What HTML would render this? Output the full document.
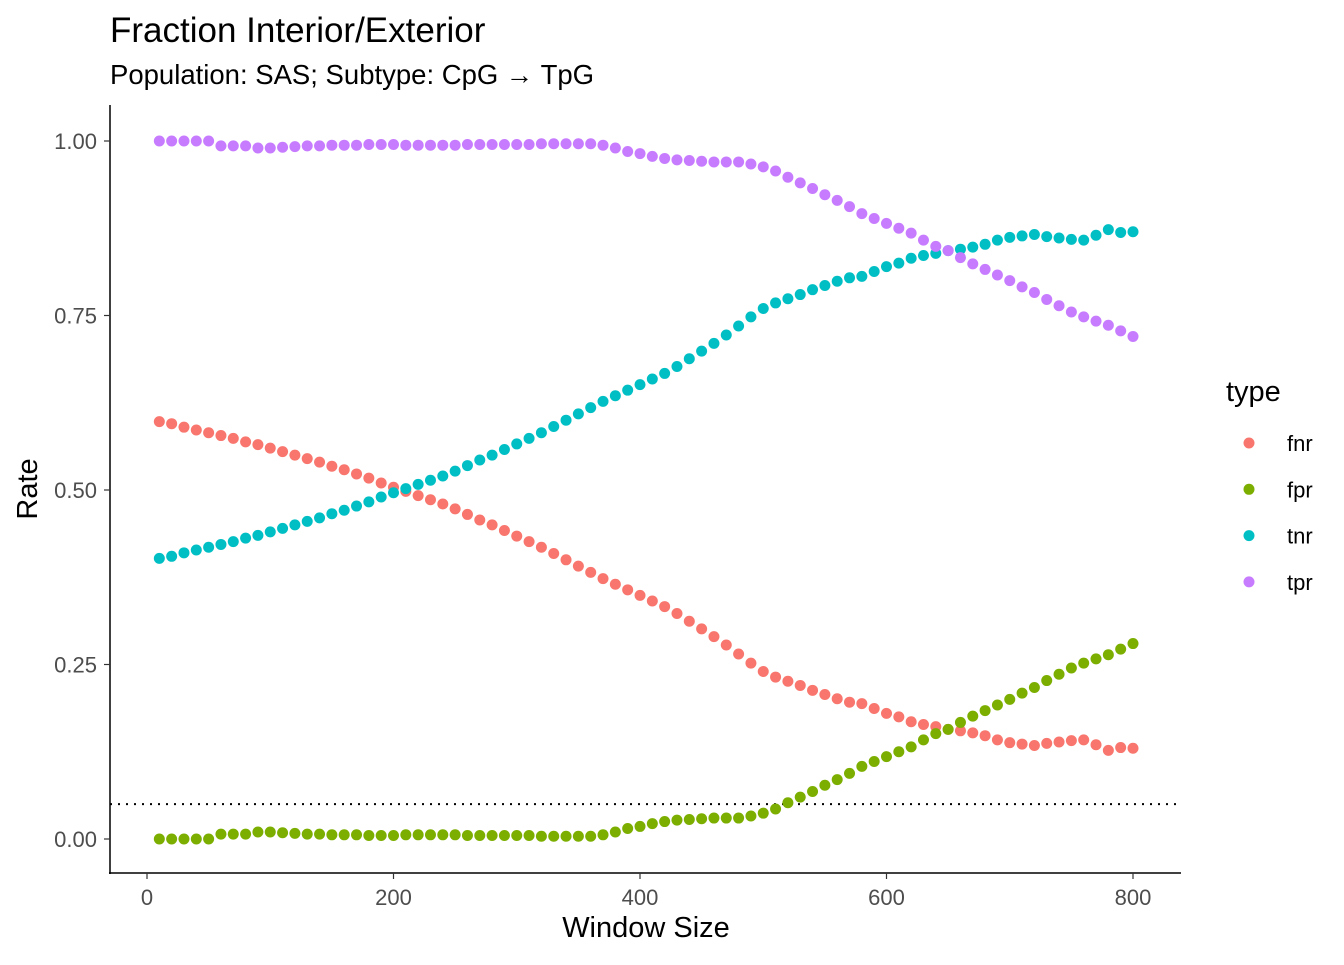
<!DOCTYPE html>
<html><head><meta charset="utf-8"><style>
body{margin:0;background:#fff;font-family:"Liberation Sans",sans-serif}
</style></head><body>
<svg width="1344" height="960" id="c" font-family="Liberation Sans, sans-serif">
<text x="110" y="42" font-size="35">Fraction Interior/Exterior</text>
<text x="110" y="84" font-size="27.5">Population: SAS; Subtype: CpG → TpG</text>
<g id="marks"></g>
<line x1="110" y1="105" x2="110" y2="874" stroke="#000" stroke-width="1.5"/>
<line x1="109" y1="873" x2="1181" y2="873" stroke="#000" stroke-width="1.5"/>
<text x="646" y="937" font-size="29" text-anchor="middle">Window Size</text>
<text transform="translate(37,489) rotate(-90)" font-size="29" text-anchor="middle">Rate</text>
<text x="1226" y="401" font-size="29">type</text>
<g id="legend"></g>
</svg>
<script>
const xs=[];for(let i=1;i<=80;i++)xs.push(i*10);
const tpr=[1,1,1,1,1,0.993,0.993,0.993,0.99,0.99,0.991,0.992,0.993,0.993,0.994,0.994,0.994,0.995,0.995,0.995,0.994,0.994,0.994,0.994,0.994,0.995,0.995,0.995,0.995,0.995,0.995,0.996,0.996,0.996,0.996,0.996,0.994,0.99,0.985,0.982,0.978,0.975,0.973,0.972,0.971,0.97,0.97,0.97,0.967,0.963,0.957,0.948,0.94,0.932,0.923,0.915,0.906,0.896,0.889,0.882,0.875,0.868,0.858,0.849,0.843,0.833,0.824,0.816,0.808,0.8,0.791,0.783,0.773,0.764,0.755,0.748,0.742,0.736,0.728,0.72];
const fpr=[0,0,0,0,0,0.007,0.007,0.007,0.01,0.01,0.009,0.008,0.007,0.007,0.006,0.006,0.006,0.005,0.005,0.005,0.006,0.006,0.006,0.006,0.006,0.005,0.005,0.005,0.005,0.005,0.005,0.004,0.004,0.004,0.004,0.004,0.006,0.01,0.015,0.018,0.022,0.025,0.027,0.028,0.029,0.03,0.03,0.03,0.033,0.037,0.043,0.052,0.06,0.068,0.077,0.085,0.094,0.104,0.111,0.118,0.125,0.132,0.142,0.151,0.157,0.167,0.176,0.184,0.192,0.2,0.209,0.217,0.227,0.236,0.245,0.252,0.258,0.264,0.272,0.28];
const tnr=[0.402,0.405,0.41,0.414,0.418,0.422,0.426,0.431,0.435,0.44,0.445,0.45,0.455,0.46,0.466,0.471,0.477,0.483,0.49,0.496,0.502,0.508,0.514,0.52,0.527,0.535,0.543,0.55,0.558,0.566,0.574,0.582,0.591,0.6,0.609,0.618,0.627,0.635,0.643,0.651,0.659,0.667,0.677,0.688,0.699,0.71,0.722,0.735,0.748,0.76,0.768,0.774,0.78,0.787,0.793,0.799,0.804,0.806,0.813,0.82,0.825,0.832,0.836,0.839,0.843,0.845,0.848,0.852,0.858,0.862,0.864,0.866,0.863,0.861,0.859,0.858,0.865,0.873,0.869,0.87];
const fnr=[0.598,0.595,0.59,0.586,0.582,0.578,0.574,0.569,0.565,0.56,0.555,0.55,0.545,0.54,0.534,0.529,0.523,0.517,0.51,0.504,0.498,0.492,0.486,0.48,0.473,0.465,0.457,0.45,0.442,0.434,0.426,0.418,0.409,0.4,0.391,0.382,0.373,0.365,0.357,0.349,0.341,0.333,0.323,0.312,0.301,0.29,0.278,0.265,0.252,0.24,0.232,0.226,0.22,0.213,0.207,0.201,0.196,0.194,0.187,0.18,0.175,0.168,0.164,0.161,0.157,0.155,0.152,0.148,0.142,0.138,0.136,0.134,0.137,0.139,0.141,0.142,0.135,0.127,0.131,0.13];
const xTicks=[0,200,400,600,800];
const yTicks=[0,0.25,0.5,0.75,1];
const yTickLabels=["0.00","0.25","0.50","0.75","1.00"];
const types=["fnr","fpr","tnr","tpr"];
const colors=["#F8766D","#7CAE00","#00BFC4","#C77CFF"];
const NS="http://www.w3.org/2000/svg";
const X=v=>147+v*(1133-147)/800, Y=v=>839-v*698;
const svg=document.getElementById('c'),g=document.getElementById('marks'),lg=document.getElementById('legend');
function mk(tag,a,p){const e=document.createElementNS(NS,tag);for(const k in a)e.setAttribute(k,a[k]);(p||svg).appendChild(e);return e;}
xTicks.forEach(t=>{const l=mk('line',{x1:X(t),x2:X(t),y1:873,y2:879,stroke:'#333','stroke-width':1.2});


const tx=mk('text',{x:X(t),y:905,'font-size':22,fill:'#4d4d4d','text-anchor':'middle'});tx.textContent=t;

});
yTicks.forEach((t,i)=>{const l=mk('line',{x1:104,x2:110,y1:Y(t),y2:Y(t),stroke:'#333','stroke-width':1.2});


const tx=mk('text',{x:97,y:Y(t)+8,'font-size':22,fill:'#4d4d4d','text-anchor':'end'});tx.textContent=yTickLabels[i];

});
const ref=mk('line',{x1:110,x2:1181,y1:Y(0.05),y2:Y(0.05),stroke:'#000','stroke-width':2,'stroke-dasharray':'2,6'},g);


[fnr,fpr,tnr,tpr].forEach((s,k)=>{s.forEach((v,i)=>{const c=mk('circle',{cx:X(xs[i]),cy:Y(v),r:5.5,fill:colors[k]},g);

});
const ly=443+k*46.3;
const lc=mk('circle',{cx:1249,cy:ly,r:5.5,fill:colors[k]},lg);


const lt=mk('text',{x:1287,y:ly+8,'font-size':22},lg);lt.textContent=types[k];

});
</script>
</body></html>
